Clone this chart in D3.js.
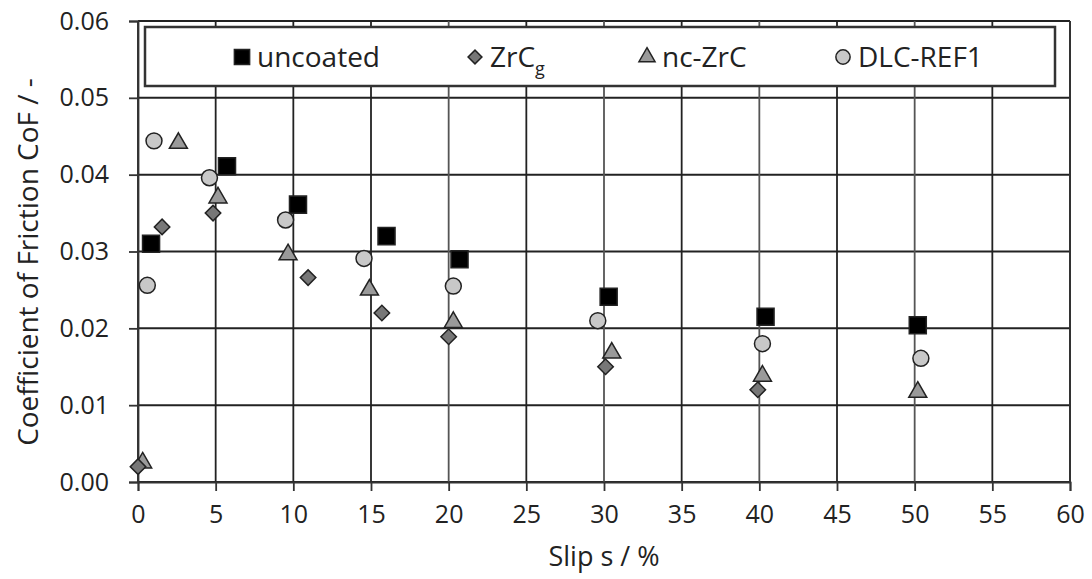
<!DOCTYPE html>
<html>
<head>
<meta charset="utf-8">
<script src="https://cdn.jsdelivr.net/npm/d3@7"></script>
<style>
  body { margin: 0; background: #fff; }
  text { font-family: "Open Sans", sans-serif; fill: #222; }
</style>
</head>
<body>
<div id="chart"></div>
<script>
// data: slip (%) and coefficient of friction
var uncoatedX = [0.84, 5.73, 10.3, 16.0, 20.7, 30.3, 40.4, 50.2]
var uncoatedY = [0.031, 0.0411, 0.0361, 0.032, 0.029, 0.0241, 0.0215, 0.0204]

var zrcX = [0.0, 1.55, 4.83, 10.95, 15.7, 20.0, 30.1, 39.9]
var zrcY = [0.002, 0.0332, 0.035, 0.0266, 0.022, 0.0189, 0.015, 0.012]

var nczrcX = [0.3, 2.6, 5.15, 9.66, 14.9, 20.3, 30.5, 40.2, 50.2]
var nczrcY = [0.0025, 0.0441, 0.037, 0.0296, 0.025, 0.0208, 0.0168, 0.0138, 0.0117]

var dlcX = [1.03, 0.6, 4.6, 9.5, 14.55, 20.3, 29.6, 40.2, 50.4]
var dlcY = [0.0444, 0.0256, 0.0396, 0.0341, 0.0291, 0.0255, 0.021, 0.018, 0.0161]

var xTicks = [0, 5, 10, 15, 20, 25, 30, 35, 40, 45, 50, 55, 60]
var yTicks = [0, 0.01, 0.02, 0.03, 0.04, 0.05, 0.06]

var seriesNames = ["uncoated", "ZrC", "nc-ZrC", "DLC-REF1"]

var margin = {top: 21, right: 22, bottom: 97, left: 138},
    width = 1092 - margin.left - margin.right,
    height = 579 - margin.top - margin.bottom

var svg = d3.select("#chart").append("svg")
    .attr("width", 1092)
    .attr("height", 579)

var g = svg.append("g")
    .attr("transform", "translate(" + margin.left + "," + margin.top + ")")

var x = d3.scaleLinear().domain([0, 60]).range([0, width])
var y = d3.scaleLinear().domain([0, 0.06]).range([height, 0])

// grid
g.selectAll(".hgrid")
  .data(yTicks)
  .enter()
  .append("line")
  .attr("x1", 0).attr("x2", width)
  .attr("y1", function(d){return y(d)}).attr("y2", function(d){return y(d)})
  .attr("stroke", "#222")
  .attr("stroke-width", 2)

g.selectAll(".vgrid")
  .data(xTicks)
  .enter()
  .append("line")
  .attr("x1", function(d){return x(d)}).attr("x2", function(d){return x(d)})
  .attr("y1", 0).attr("y2", height)
  .attr("stroke", function(d){return (d % 10 == 0 && d >= 20 && d < 60) ? "#555" : "#222"})
  .attr("stroke-width", 1.8)

// axes
var xAxis = d3.axisBottom(x).tickValues(xTicks).tickSize(9).tickPadding(14)
  .tickFormat(d3.format("d"))
var yAxis = d3.axisLeft(y).tickValues(yTicks).tickSize(9).tickPadding(20)
  .tickFormat(d3.format(".2f"))

var gx = g.append("g").attr("transform", "translate(0," + height + ")").call(xAxis)
var gy = g.append("g").call(yAxis)
;[gx, gy].forEach(function(a){
  a.select(".domain").attr("stroke", "#333").attr("stroke-width", 1.8)
  a.selectAll(".tick line").attr("stroke", "#333").attr("stroke-width", 1.8)
  a.selectAll(".tick text").style("font-size", "25px").attr("fill", "#222")
})
g.append("line").attr("x1", width).attr("x2", width).attr("y1", 0).attr("y2", height)
  .attr("stroke", "#333").attr("stroke-width", 1.8)

// axis titles
svg.append("text")
  .text("Slip s / %")
  .attr("x", margin.left + width / 2)
  .attr("y", 566)
  .attr("text-anchor", "middle")
  .style("font-size", "27px")

svg.append("text")
  .text("Coefficient of Friction CoF / -")
  .attr("transform", "translate(38,262) rotate(-90)")
  .attr("text-anchor", "middle")
  .style("font-size", "28px")

// marker drawing
var markerStyle = {
  "uncoated": {shape: d3.symbolSquare, size: 290, fill: "#000", rot: 0},
  "ZrC": {shape: d3.symbolSquare, size: 120, fill: "#777", rot: 45},
  "nc-ZrC": {shape: d3.symbolTriangle, size: 140, fill: "#9a9a9a", rot: 0},
  "DLC-REF1": {shape: d3.symbolCircle, size: 200, fill: "#c8c8c8", rot: 0}
}

function drawSeries(name, xs, ys) {
  var st = markerStyle[name]
  var pts = xs.map(function(v, i){return {x: v, y: ys[i]}})
  g.selectAll(".pt-" + name.replace(/[^\w]/g, ""))
    .data(pts)
    .enter()
    .append("path")
    .attr("d", d3.symbol().type(st.shape).size(st.size))
    .attr("transform", function(d){return "translate(" + x(d.x) + "," + y(d.y) + ") rotate(" + st.rot + ")"})
    .attr("fill", st.fill)
    .attr("stroke", "#222")
    .attr("stroke-width", 1.5)
}

drawSeries("DLC-REF1", dlcX, dlcY)
drawSeries("nc-ZrC", nczrcX, nczrcY)
drawSeries("ZrC", zrcX, zrcY)
drawSeries("uncoated", uncoatedX, uncoatedY)

// legend
var legend = svg.append("g")
legend.append("rect")
  .attr("x", 145).attr("y", 27).attr("width", 910).attr("height", 59)
  .attr("fill", "#fff").attr("stroke", "#333").attr("stroke-width", 2.5)

var legendX = [242, 475, 647, 843]
seriesNames.forEach(function(name, i){
  var st = markerStyle[name]
  legend.append("path")
    .attr("d", d3.symbol().type(st.shape).size(st.size * 0.8))
    .attr("transform", "translate(" + legendX[i] + ",57) rotate(" + st.rot + ")")
    .attr("fill", st.fill)
    .attr("stroke", "#222")
    .attr("stroke-width", 1.5)
  var t = legend.append("text")
    .attr("x", legendX[i] + 15)
    .attr("y", 67)
    .style("font-size", "28px")
  t.append("tspan").text(name)
  if (name == "ZrC") {
    t.append("tspan").text("g").attr("dy", 8).style("font-size", "18px")
  }
})
</script>
</body>
</html>
